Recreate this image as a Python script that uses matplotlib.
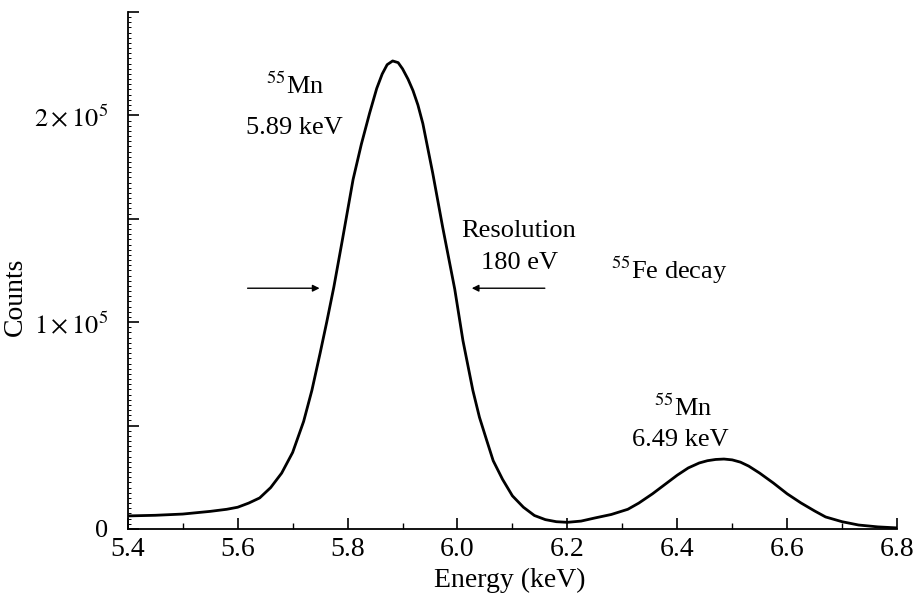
import matplotlib
matplotlib.use('Agg')

import matplotlib.pyplot as plt
from matplotlib.ticker import MultipleLocator, FuncFormatter

# Energy (keV) and counts
energy = [5.40, 5.45, 5.50, 5.55, 5.58, 5.60, 5.62, 5.64, 5.66, 5.68,
          5.70, 5.72, 5.735, 5.75, 5.762, 5.775, 5.79, 5.81, 5.825, 5.84,
          5.853, 5.863, 5.872, 5.882, 5.892, 5.90, 5.91, 5.919, 5.928, 5.937,
          5.955, 5.973, 5.995, 6.01, 6.028, 6.04, 6.053, 6.065, 6.082, 6.10,
          6.12, 6.14, 6.16, 6.18, 6.20, 6.225, 6.25, 6.28, 6.31, 6.33,
          6.355, 6.38, 6.40, 6.42, 6.44, 6.455, 6.47, 6.485, 6.50, 6.515,
          6.53, 6.55, 6.575, 6.60, 6.625, 6.65, 6.67, 6.70, 6.73, 6.765,
          6.80]
counts = [6300, 6600, 7200, 8500, 9500, 10500, 12500, 15000, 20000, 27000,
          37000, 52000, 67000, 85000, 100000, 117000, 139000, 169000, 186000, 201000,
          213000, 220000, 224500, 226300, 225500, 222500, 217500, 212000, 205000, 196000,
          172000, 146000, 116000, 91000, 67000, 54000, 43000, 33000, 24000, 16000,
          10500, 6500, 4500, 3500, 3200, 3800, 5300, 7000, 9500, 12500,
          17000, 22000, 26000, 29500, 31900, 33000, 33600, 33800, 33400, 32300,
          30400, 27000, 22200, 17000, 12600, 8700, 5800, 3500, 1900, 1000,
          500]

x_ticks = [5.4, 5.6, 5.8, 6.0, 6.2, 6.4, 6.6, 6.8]

plt.rcParams['font.family'] = ['Liberation Serif', 'DejaVu Serif']
plt.rcParams['mathtext.fontset'] = 'stix'

fig = plt.figure(figsize=(9.13, 5.97), dpi=100)
ax = fig.add_axes([0.140, 0.114, 0.8425, 0.866])

ax.plot(energy, counts, color='black', lw=2.0, solid_joinstyle='round',
        solid_capstyle='round')

ax.set_xlim(5.4, 6.8)
ax.set_ylim(0, 2.5e5)

ax.spines['top'].set_visible(False)
ax.spines['right'].set_visible(False)
for s in ('left', 'bottom'):
    ax.spines[s].set_linewidth(1.3)

ax.set_xticks(x_ticks)
ax.set_xticklabels([f'{v:.1f}' for v in x_ticks])
ax.xaxis.set_minor_locator(MultipleLocator(0.1))
ax.yaxis.set_major_locator(MultipleLocator(0.5e5))
ax.yaxis.set_minor_locator(MultipleLocator(2500))


def ylab(v, pos):
    if v == 0:
        return '0'
    if abs(v % 1e5) < 1:
        return r'$%d\times10^5$' % int(round(v / 1e5))
    return ''


ax.yaxis.set_major_formatter(FuncFormatter(ylab))

ax.tick_params(axis='x', which='major', direction='in', length=8, width=1.2,
               labelsize=20, pad=6)
ax.tick_params(axis='x', which='minor', direction='in', length=4, width=1.0)
ax.tick_params(axis='y', which='major', direction='in', length=8, width=1.2,
               labelsize=19, pad=14)
ax.tick_params(axis='y', which='minor', direction='in', length=2, width=0.7)

ax.set_xlabel('Energy (keV)', fontsize=20)
ax.set_ylabel('Counts', fontsize=20)
ax.xaxis.set_label_coords(0.497, -0.075)
ax.yaxis.set_label_coords(-0.13, 0.449)

fs = 19
ax.text(5.704, 2.14e5, r'$^{55}$Mn', ha='center', va='center', fontsize=fs)
ax.text(5.704, 1.94e5, '5.89 keV', ha='center', va='center', fontsize=fs)
ax.text(6.112, 1.44e5, 'Resolution', ha='center', va='center', fontsize=fs)
ax.text(6.113, 1.285e5, '180 eV', ha='center', va='center', fontsize=fs)
ax.text(6.386, 1.25e5, r'$^{55}$Fe decay', ha='center', va='center', fontsize=fs)
ax.text(6.41, 0.585e5, r'$^{55}$Mn', ha='center', va='center', fontsize=fs)
ax.text(6.405, 0.43e5, '6.49 keV', ha='center', va='center', fontsize=fs)

arrow = dict(arrowstyle='-|>', color='black', lw=1.0, mutation_scale=10,
             shrinkA=0, shrinkB=0)
ax.annotate('', xy=(5.749, 1.164e5), xytext=(5.618, 1.164e5), arrowprops=arrow)
ax.annotate('', xy=(6.026, 1.164e5), xytext=(6.159, 1.164e5), arrowprops=arrow)

fig.savefig('out.png', dpi=100)
